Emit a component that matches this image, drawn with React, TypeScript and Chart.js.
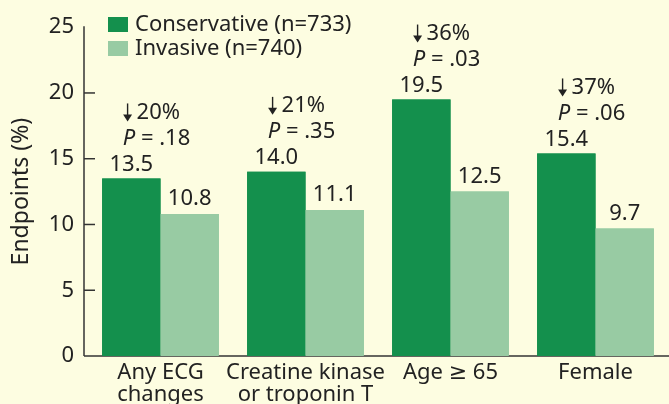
import React, { useEffect, useRef } from "react";
import { Chart, registerables } from "chart.js";

Chart.register(...registerables);

const categories: string[][] = [["Any ECG", "changes"], ["Creatine kinase", "or troponin T"], ["Age \u2265 65"], ["Female"]];
const conservative: number[] = [13.5, 14.0, 19.5, 15.4];
const invasive: number[] = [10.8, 11.1, 12.5, 9.7];
const reductions: string[] = ["20%", "21%", "36%", "37%"];
const pValues: string[] = [".18", ".35", ".03", ".06"];
const seriesNames: string[] = ["Conservative (n=733)", "Invasive (n=740)"];
const yTicks: number[] = [0, 5, 10, 15, 20, 25];

const BG = "#fdfde1";
const DARK = "#14904d";
const LIGHT = "#98cba3";
const TEXT = "#222222";
const FONT = "'Noto Sans', 'DejaVu Sans', sans-serif";

const overlay = {
  id: "overlay",
  beforeDraw(chart: any) {
    const ctx = chart.ctx;
    ctx.save();
    ctx.fillStyle = BG;
    ctx.fillRect(0, 0, chart.width, chart.height);
    ctx.restore();
  },
  afterDatasetsDraw(chart: any) {
    const ctx = chart.ctx;
    const y = chart.scales.y;
    const area = chart.chartArea;
    const axisX = area.left - 4;
    ctx.save();
    ctx.strokeStyle = "#333";
    ctx.lineWidth = 1.5;
    ctx.beginPath();
    ctx.moveTo(axisX, y.getPixelForValue(25) - 1);
    ctx.lineTo(axisX, y.getPixelForValue(0));
    ctx.stroke();
    yTicks.forEach((v) => {
      if (v === 0 || v === 25) return;
      const py = y.getPixelForValue(v);
      ctx.beginPath();
      ctx.moveTo(axisX, py);
      ctx.lineTo(axisX + 11, py);
      ctx.stroke();
    });
    const m0 = chart.getDatasetMeta(0).data;
    const m1 = chart.getDatasetMeta(1).data;
    const base = y.getPixelForValue(0);
    ctx.beginPath();
    ctx.moveTo(axisX, base);
    ctx.lineTo(chart.width, base);
    ctx.stroke();
    m0.forEach((b: any) => b.draw(ctx));
    m1.forEach((b: any) => b.draw(ctx));

    // legend
    ctx.font = `22px ${FONT}`;
    ctx.textBaseline = "middle";
    ctx.textAlign = "left";
    ctx.fillStyle = DARK;
    ctx.fillRect(108, 17, 20, 15);
    ctx.fillStyle = LIGHT;
    ctx.fillRect(108, 41, 20, 15);
    ctx.fillStyle = TEXT;
    ctx.fillText(seriesNames[0], 135, 25);
    ctx.fillText(seriesNames[1], 135, 49);

    m0.forEach((b: any, i: number) => {
      const ly = b.y - 14;
      ctx.fillStyle = TEXT;
      ctx.textAlign = "center";
      ctx.font = `22px ${FONT}`;
      ctx.fillText(conservative[i].toFixed(1), b.x, ly);
      const lb = m1[i];
      ctx.fillText(invasive[i].toFixed(1), lb.x, lb.y - 15);
      const gx = (b.x + lb.x) / 2;
      // P line
      const pY = ly - 26;
      ctx.font = `italic 22px ${FONT}`;
      const pw = ctx.measureText("P").width;
      ctx.font = `22px ${FONT}`;
      const rest = " = " + pValues[i];
      const rw = ctx.measureText(rest).width;
      const startX = gx - 4 - (pw + rw) / 2;
      ctx.textAlign = "left";
      ctx.font = `italic 22px ${FONT}`;
      ctx.fillText("P", startX, pY);
      ctx.font = `22px ${FONT}`;
      ctx.fillText(rest, startX + pw, pY);
      // arrow line
      const aY = ly - 52;
      const tw = ctx.measureText(reductions[i]).width;
      const arrowW = 14;
      const aStart = b.x + 20 - (tw + arrowW) / 2;
      ctx.strokeStyle = TEXT;
      ctx.lineWidth = 1.4;
      ctx.beginPath();
      ctx.moveTo(aStart + 5, aY - 9);
      ctx.lineTo(aStart + 5, aY + 7);
      ctx.stroke();
      ctx.fillStyle = TEXT;
      ctx.beginPath();
      ctx.moveTo(aStart + 0.5, aY + 2);
      ctx.lineTo(aStart + 9.5, aY + 2);
      ctx.lineTo(aStart + 5, aY + 9);
      ctx.closePath();
      ctx.fill();
      ctx.fillText(reductions[i], aStart + arrowW, aY);
    });
    ctx.restore();
  },
};

export default function App() {
  const ref = useRef<HTMLCanvasElement | null>(null);
  useEffect(() => {
    document.body.style.margin = "0";
    document.body.style.background = BG;
    const chart = new Chart(ref.current as HTMLCanvasElement, {
      type: "bar",
      data: {
        labels: categories,
        datasets: [
          { label: seriesNames[0], data: conservative, backgroundColor: DARK, barPercentage: 1, categoryPercentage: 0.805 },
          { label: seriesNames[1], data: invasive, backgroundColor: LIGHT, barPercentage: 1, categoryPercentage: 0.805 },
        ],
      },
      options: {
        animation: false,
        responsive: false,
        layout: { padding: { left: 0, right: 1, top: 23.5, bottom: 0 } },
        plugins: { legend: { display: false }, tooltip: { enabled: false } },
        scales: {
          x: {
            grid: { display: false, drawTicks: false },
            border: { display: false },
            ticks: { color: TEXT, font: { size: 22, family: FONT, lineHeight: 1.0 }, padding: 6, maxRotation: 0, autoSkip: false },
            afterFit: (s: any) => { s.height = 48; },
          },
          y: {
            min: 0,
            max: 25,
            grid: { display: false, drawTicks: false },
            border: { display: false },
            ticks: { stepSize: 5, color: TEXT, font: { size: 22, family: FONT }, padding: 14 },
            title: { display: true, text: "Endpoints (%)", color: TEXT, font: { size: 23, family: FONT }, padding: { top: 8, bottom: 0 } },
            afterFit: (s: any) => { s.width = 88; },
          },
        },
      },
      plugins: [overlay],
    });
    return () => chart.destroy();
  }, []);
  return <canvas ref={ref} width={669} height={404} style={{ display: "block" }} />;
}
